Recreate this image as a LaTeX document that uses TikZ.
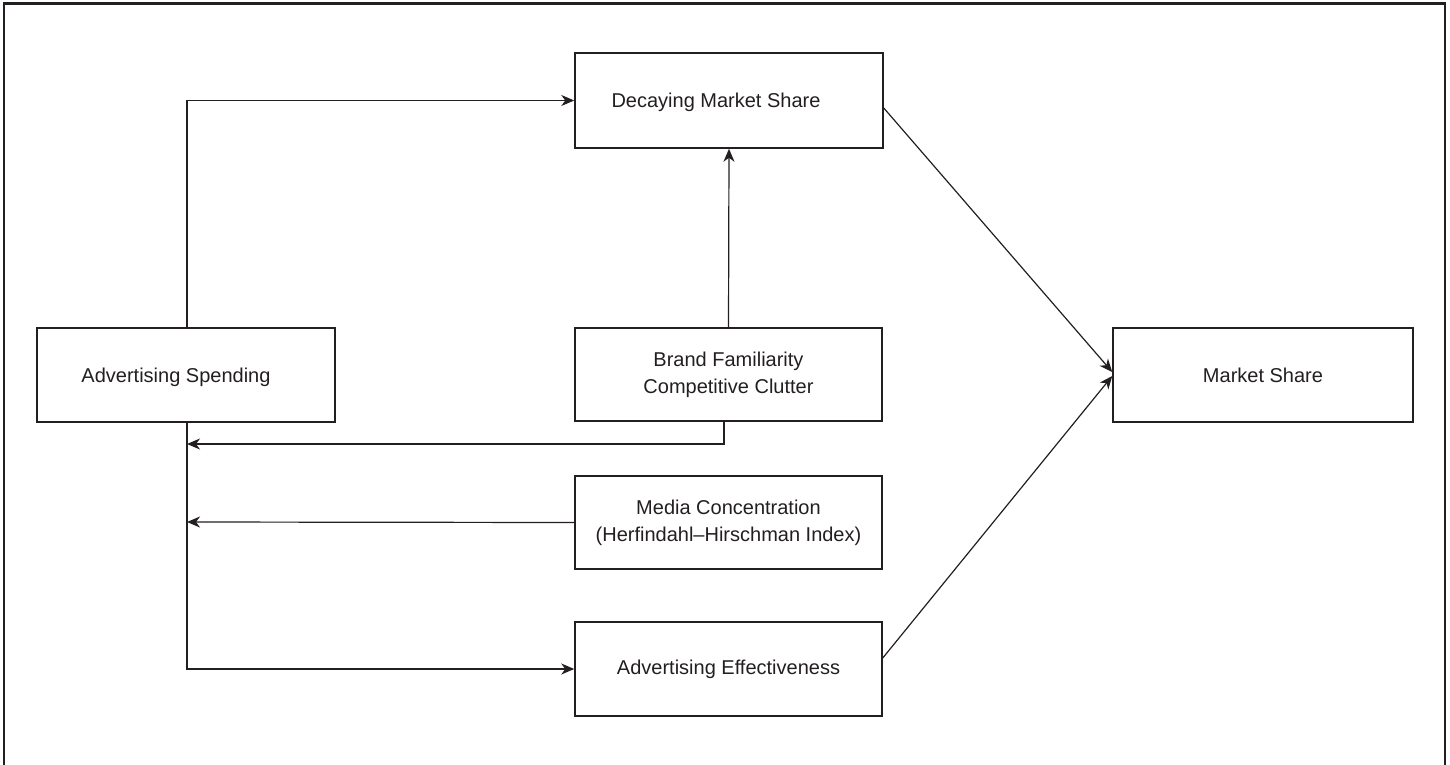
\documentclass[tikz,border=0pt]{standalone}
\usepackage{fontspec}
\setmainfont{Liberation Sans}
\usetikzlibrary{arrows.meta,calc}
\definecolor{ink}{HTML}{231F20}
\tikzset{
  box/.style={draw=ink, line width=0.75pt, rectangle, inner sep=0pt, text=ink,
    font=\fontsize{10pt}{13.5pt}\selectfont, align=center},
  conn/.style={draw=ink, line width=0.6pt},
  arr/.style={conn, -{Stealth[length=6.5pt,width=5.5pt,inset=2pt]}},
  frameline/.style={draw=ink, line width=1.1pt}
}
\begin{document}
\begin{tikzpicture}[x=0.5pt,y=-0.5pt]
\useasboundingbox (0,0) rectangle (1450,765);
% outer frame
\coordinate (f1) at (4,770);
\coordinate (f2) at (4,3.5);
\coordinate (f3) at (1445,3.5);
\coordinate (f4) at (1445,770);
\draw[frameline] (f1) -- (f2) -- (f3) -- (f4);

% boxes
\node[box, minimum width=154pt, minimum height=47.5pt,
  label={[text=ink, font=\fontsize{10pt}{12pt}\selectfont, xshift=-6.5pt, yshift=-1pt]center:Decaying Market Share}]
  (dec) at (729,100.5) {};
\node[box, minimum width=149pt, minimum height=47pt,
  label={[text=ink, font=\fontsize{10pt}{12pt}\selectfont, xshift=-5pt, yshift=-1pt]center:Advertising Spending}]
  (adv) at (186,375) {};
\node[box, minimum width=153.5pt, minimum height=46.5pt] (brand) at (728.5,374.5)
  {Brand Familiarity\\Competitive Clutter};
\node[box, minimum width=150pt, minimum height=47pt] (ms) at (1263,375) {Market Share};
\node[box, minimum width=153.5pt, minimum height=46.5pt] (media) at (728.5,522.5)
  {Media Concentration\\(Herfindahl–Hirschman Index)};
\node[box, minimum width=153.5pt, minimum height=47pt] (eff) at (728.5,669)
  {Advertising Effectiveness};

% junction points on the vertical line
\coordinate (j1) at (187,444);
\coordinate (j2) at (187,522);

% connectors
\draw[arr] ([xshift=0.5pt]adv.north) |- (dec.west);
\draw[arr] (brand.north) -- (dec.south);
\draw[arr] ([yshift=-3.75pt]dec.east) -- ([yshift=1.5pt]ms.west);
\draw[arr] ([yshift=5.5pt]eff.east) -- ([yshift=-0.5pt]ms.west);
\draw[arr] ([xshift=-2.25pt]brand.south) |- (j1);
\draw[arr] (media.west) -- (j2);
\draw[arr] ([xshift=0.5pt]adv.south) |- (eff.west);
\end{tikzpicture}
\end{document}
